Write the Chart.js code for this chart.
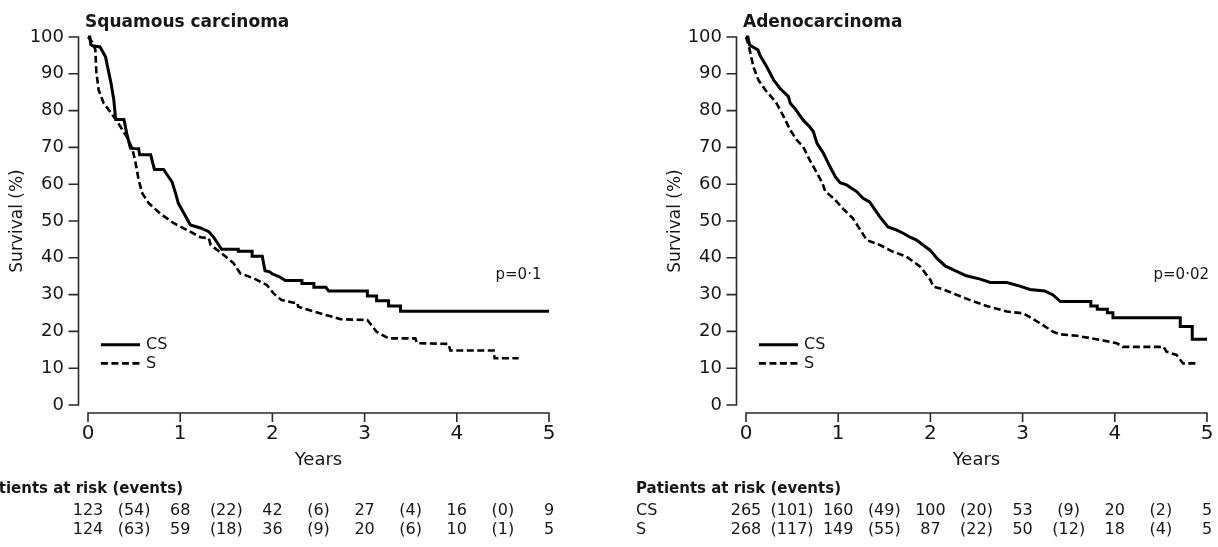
<!DOCTYPE html>
<html>
<head>
<meta charset="utf-8">
<script src="https://cdn.jsdelivr.net/npm/chart.js@4.4.1/dist/chart.umd.min.js"></script>
<style>
  html, body { margin: 0; padding: 0; background: #fff; }
  body { width: 1218px; height: 547px; position: relative; overflow: hidden; }
  canvas { position: absolute; top: 0; }
  #c1 { left: 0; }
  #c2 { left: 609px; }
</style>
</head>
<body>
<canvas id="c1" width="609" height="547"></canvas>
<canvas id="c2" width="609" height="547"></canvas>
<script>
// ---------- tick labels ----------
const xTicks = [0, 1, 2, 3, 4, 5];
const yTicks = [0, 10, 20, 30, 40, 50, 60, 70, 80, 90, 100];

// ---------- Squamous carcinoma (curve vertices) ----------
const sqCSYears = [0, 0.02, 0.03, 0.05, 0.13, 0.16, 0.19, 0.22, 0.25, 0.28, 0.30, 0.39, 0.42, 0.46,
  0.53, 0.55, 0.56, 0.68, 0.70, 0.72, 0.82, 0.86, 0.91, 0.95, 0.98, 1.04, 1.11, 1.22, 1.31, 1.36,
  1.45, 1.63, 1.63, 1.78, 1.78, 1.89, 1.92, 1.97, 2.0, 2.07, 2.14, 2.32, 2.32, 2.45, 2.45, 2.58,
  2.61, 3.03, 3.03, 3.13, 3.13, 3.26, 3.26, 3.39, 3.39, 5.0];
const sqCSSurv = [100, 100, 98, 97.6, 97.3, 96, 94.6, 91, 87.4, 82.9, 77.6, 77.6, 73.8, 69.8,
  69.6, 69.6, 68, 68, 66, 64, 64, 62.5, 60.7, 57.5, 54.8, 52.1, 48.9, 48.1, 47.1, 45.7,
  42.3, 42.3, 41.8, 41.8, 40.4, 40.4, 36.5, 36.2, 35.6, 34.9, 33.8, 33.8, 33.0, 33.0, 32.0, 32.0,
  31.0, 31.0, 29.6, 29.6, 28.3, 28.3, 26.9, 26.9, 25.5, 25.5];

const sqSYears = [0, 0.05, 0.08, 0.09, 0.115, 0.17, 0.24, 0.33, 0.42, 0.48, 0.51, 0.55, 0.59, 0.66,
  0.78, 0.93, 1.07, 1.22, 1.31, 1.33, 1.45, 1.58, 1.65, 1.80, 1.94, 2.01, 2.10, 2.23, 2.27, 2.28,
  2.45, 2.74, 3.03, 3.13, 3.26, 3.55, 3.57, 3.91, 3.93, 4.40, 4.41, 4.67];
const sqSSurv = [100, 98.5, 96.5, 90.6, 85.6, 82, 79.7, 76.5, 72.9, 69.7, 66.6, 61.1, 57.5, 54.8,
  52.1, 49.4, 47.6, 45.6, 45.3, 43.5, 41.2, 38.5, 35.8, 34.4, 32.6, 30.4, 28.5, 27.8, 27.8, 26.7,
  25.4, 23.3, 23.1, 19.9, 18.1, 18.1, 16.8, 16.6, 14.8, 14.8, 12.7, 12.7];

const sqRiskCS = [123, 68, 42, 27, 16, 9];
const sqEventsCS = [54, 22, 6, 4, 0];
const sqRiskS = [124, 59, 36, 20, 10, 5];
const sqEventsS = [63, 18, 9, 6, 1];

// ---------- Adenocarcinoma (curve vertices) ----------
const adCSYears = [0, 0.02, 0.04, 0.10, 0.13, 0.15, 0.225, 0.30, 0.37, 0.46, 0.48, 0.53, 0.62, 0.69,
  0.73, 0.77, 0.84, 0.91, 0.97, 1.02, 1.09, 1.20, 1.27, 1.34, 1.40, 1.45, 1.54, 1.63, 1.71, 1.78,
  1.85, 1.92, 2.0, 2.07, 2.16, 2.25, 2.39, 2.54, 2.65, 2.83, 2.97, 3.08, 3.24, 3.33, 3.41, 3.74,
  3.74, 3.81, 3.81, 3.92, 3.92, 3.98, 3.98, 4.71, 4.71, 4.84, 4.84, 5.0];
const adCSSurv = [100, 100, 97.8, 96.9, 96.5, 95.1, 91.9, 88.3, 86, 83.8, 82, 80.6, 77.4, 75.6,
  74.3, 71.1, 68.4, 64.8, 62.0, 60.4, 59.8, 58.0, 56.2, 55.2, 53.0, 51.2, 48.4, 47.6, 46.6, 45.6,
  44.8, 43.5, 42.0, 39.9, 37.8, 36.7, 35.1, 34.2, 33.3, 33.3, 32.3, 31.4, 31.0, 29.9, 28.1, 28.1,
  26.9, 26.9, 26.0, 26.0, 25.1, 25.1, 23.7, 23.7, 21.3, 21.3, 17.9, 17.9];

const adSYears = [0, 0.02, 0.04, 0.08, 0.135, 0.21, 0.26, 0.33, 0.40, 0.48, 0.55, 0.62, 0.69, 0.77,
  0.82, 0.84, 0.86, 0.95, 1.05, 1.16, 1.24, 1.31, 1.45, 1.59, 1.74, 1.89, 2.0, 2.03, 2.14, 2.29,
  2.43, 2.61, 2.83, 3.01, 3.19, 3.33, 3.41, 3.59, 3.84, 4.02, 4.09, 4.53, 4.56, 4.67, 4.74, 4.89];
const adSSurv = [100, 98.5, 96.5, 91.9, 88.3, 85.6, 84.2, 82, 78.8, 74.7, 72.0, 70.2, 66.6, 63.0,
  60.7, 59.5, 58.0, 56.2, 53.4, 50.7, 47.6, 44.8, 43.5, 41.7, 40.3, 37.6, 34, 32.2, 31.4, 29.9,
  28.5, 26.9, 25.4, 24.9, 22.2, 19.9, 19.2, 18.8, 17.7, 16.8, 15.8, 15.8, 14.5, 13.6, 11.3, 11.3];

const adRiskCS = [265, 160, 100, 53, 20, 5];
const adEventsCS = [101, 49, 20, 9, 2];
const adRiskS = [268, 149, 87, 50, 18, 5];
const adEventsS = [117, 55, 22, 12, 4];

// ---------- styling ----------
const FONT = 'DejaVu Sans';
const TEXT = '#161616';
const AXIS = '#2a2a2a';

function pts(xs, ys) { return xs.map((t, i) => ({ x: t, y: ys[i] })); }

const decor = {
  id: 'decor',
  afterDraw(chart, args, o) {
    const { ctx, chartArea: a, scales: { x, y } } = chart;
    ctx.save();
    // axes (detached, R style)
    ctx.strokeStyle = AXIS;
    ctx.lineWidth = 1.6;
    ctx.lineCap = 'butt';
    const ax = a.left - 9.5;
    ctx.beginPath();
    ctx.moveTo(ax, y.getPixelForValue(yTicks[yTicks.length - 1]));
    ctx.lineTo(ax, y.getPixelForValue(yTicks[0]));
    yTicks.forEach(v => {
      const py = y.getPixelForValue(v);
      ctx.moveTo(ax + 0.8, py); ctx.lineTo(ax - 10, py);
    });
    const ay = a.bottom + 8;
    ctx.moveTo(x.getPixelForValue(xTicks[0]), ay);
    ctx.lineTo(x.getPixelForValue(xTicks[xTicks.length - 1]), ay);
    xTicks.forEach(v => {
      const px = x.getPixelForValue(v);
      ctx.moveTo(px, ay - 0.8); ctx.lineTo(px, ay + 9);
    });
    ctx.stroke();

    // panel title
    ctx.fillStyle = TEXT;
    ctx.font = 'bold 17px "' + FONT + '"';
    ctx.textAlign = 'left';
    ctx.textBaseline = 'alphabetic';
    ctx.fillText(o.title, a.left - 3, 27);

    // legend
    ctx.strokeStyle = '#000';
    const lx0 = x.getPixelForValue(0.14), lx1 = x.getPixelForValue(0.565);
    const ly1 = y.getPixelForValue(16.4), ly2 = y.getPixelForValue(11.3);
    ctx.lineWidth = 3;
    ctx.beginPath(); ctx.moveTo(lx0, ly1); ctx.lineTo(lx1, ly1); ctx.stroke();
    ctx.lineWidth = 2.6;
    ctx.setLineDash([7, 3.5]);
    ctx.beginPath(); ctx.moveTo(lx0, ly2); ctx.lineTo(lx1, ly2); ctx.stroke();
    ctx.setLineDash([]);
    ctx.font = '16px "' + FONT + '"';
    ctx.textBaseline = 'middle';
    ctx.fillText('CS', x.getPixelForValue(0.63), ly1);
    ctx.fillText('S', x.getPixelForValue(0.63), ly2);

    // p value
    ctx.font = '15px "' + FONT + '"';
    ctx.fillText(o.pText, x.getPixelForValue(4.42), y.getPixelForValue(35.3));

    // patients at risk table
    const tx = a.left - 110;
    ctx.font = 'bold 15px "' + FONT + '"';
    ctx.fillText('Patients at risk (events)', tx, 489);
    ctx.font = '16px "' + FONT + '"';
    const rows = [[o.riskCS, o.eventsCS, 'CS', 511], [o.riskS, o.eventsS, 'S', 530]];
    rows.forEach(([risk, ev, lab, ry]) => {
      ctx.textAlign = 'left';
      ctx.fillText(lab, tx, ry);
      ctx.textAlign = 'center';
      risk.forEach((n, i) => ctx.fillText(String(n), x.getPixelForValue(xTicks[i]), ry));
      ev.forEach((n, i) => ctx.fillText('(' + n + ')', x.getPixelForValue(xTicks[i] + 0.5), ry));
    });
    ctx.restore();
  }
};

function makeChart(id, padLeft, padRight, cs, s, o) {
  return new Chart(document.getElementById(id), {
    type: 'line',
    data: {
      datasets: [
        { label: 'CS', data: cs, borderColor: '#000', borderWidth: 3, stepped: false, tension: 0,
          borderJoinStyle: 'miter', pointRadius: 0, fill: false, clip: false },
        { label: 'S', data: s, borderColor: '#000', borderWidth: 2.6, borderDash: [7, 3.5],
          stepped: false, tension: 0, borderJoinStyle: 'miter', pointRadius: 0, fill: false, clip: false }
      ]
    },
    options: {
      responsive: false,
      animation: false,
      devicePixelRatio: 1,
      events: [],
      layout: { padding: { left: padLeft, right: padRight, top: 37, bottom: 0 } },
      plugins: { legend: { display: false }, tooltip: { enabled: false }, title: { display: false }, decor: o },
      scales: {
        x: {
          type: 'linear', min: 0, max: 5,
          afterBuildTicks: sc => { sc.ticks = xTicks.map(v => ({ value: v })); },
          afterFit: sc => { sc.height = 142; sc.paddingLeft = 0; sc.paddingRight = 0; },
          ticks: { color: TEXT, font: { family: FONT, size: 20 }, padding: 17, maxRotation: 0, autoSkip: false },
          grid: { display: false, drawTicks: false },
          border: { display: false },
          title: { display: true, text: 'Years', color: TEXT, font: { family: FONT, size: 18 },
                   padding: { top: 0, bottom: 76 } }
        },
        y: {
          type: 'linear', min: 0, max: 100,
          afterBuildTicks: sc => { sc.ticks = yTicks.map(v => ({ value: v })); },
          afterFit: sc => { sc.width = 88; },
          ticks: { color: TEXT, font: { family: FONT, size: 18 }, padding: 24, autoSkip: false },
          grid: { display: false, drawTicks: false },
          border: { display: false },
          title: { display: true, text: 'Survival (%)', color: TEXT, font: { family: FONT, size: 17 },
                   padding: { top: 7, bottom: 0 } }
        }
      }
    },
    plugins: [decor]
  });
}

makeChart('c1', 0, 60, pts(sqCSYears, sqCSSurv), pts(sqSYears, sqSSurv), {
  title: 'Squamous carcinoma', pText: 'p=0\u00b71',
  riskCS: sqRiskCS, eventsCS: sqEventsCS, riskS: sqRiskS, eventsS: sqEventsS
});
makeChart('c2', 49, 11, pts(adCSYears, adCSSurv), pts(adSYears, adSSurv), {
  title: 'Adenocarcinoma', pText: 'p=0\u00b702',
  riskCS: adRiskCS, eventsCS: adEventsCS, riskS: adRiskS, eventsS: adEventsS
});
</script>
</body>
</html>
